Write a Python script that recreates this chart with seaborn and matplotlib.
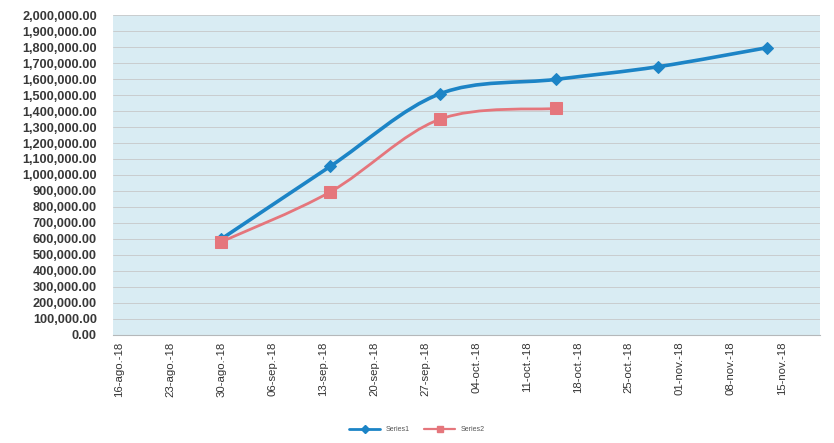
"""Recreate the two-series cumulative line chart (Series1 / Series2)."""

import matplotlib
matplotlib.use("Agg")
import matplotlib.dates as mdates
import matplotlib.pyplot as plt
import matplotlib.ticker as mticker
import pandas as pd
import seaborn as sns
from matplotlib.lines import Line2D
from matplotlib.patches import PathPatch
from matplotlib.path import Path

SERIES1_DATES = ["2018-08-30", "2018-09-14", "2018-09-29", "2018-10-15", "2018-10-29", "2018-11-13"]
SERIES1_VALUES = [600000, 1055000, 1507000, 1598000, 1677000, 1796000]

SERIES2_DATES = ["2018-08-30", "2018-09-14", "2018-09-29", "2018-10-15"]
SERIES2_VALUES = [582000, 895000, 1348000, 1416000]

TICK_DATES = pd.date_range("2018-08-16", "2018-11-15", freq="7D")
TICK_LABELS = [
    "16-ago.-18", "23-ago.-18", "30-ago.-18", "06-sep.-18", "13-sep.-18",
    "20-sep.-18", "27-sep.-18", "04-oct.-18", "11-oct.-18", "18-oct.-18",
    "25-oct.-18", "01-nov.-18", "08-nov.-18", "15-nov.-18",
]
Y_TICKS = list(range(0, 2000001, 100000))

BLUE = "#1c84c6"
RED = "#e5767c"


def smooth_path(xs, ys) -> Path:
    # Excel-style smoothed line: Catmull-Rom segments as cubic Beziers
    pts = list(zip(xs, ys))
    verts, codes = [pts[0]], [Path.MOVETO]
    for i in range(len(pts) - 1):
        p0 = pts[i - 1] if i > 0 else pts[i]
        p1, p2 = pts[i], pts[i + 1]
        p3 = pts[i + 2] if i + 2 < len(pts) else pts[i + 1]
        c1 = (p1[0] + (p2[0] - p0[0]) / 6, p1[1] + (p2[1] - p0[1]) / 6)
        c2 = (p2[0] - (p3[0] - p1[0]) / 6, p2[1] - (p3[1] - p1[1]) / 6)
        verts += [c1, c2, p2]
        codes += [Path.CURVE4] * 3
    return Path(verts, codes)


def draw_series(ax, dates, values, color, lw, marker, ms) -> None:
    df = pd.DataFrame({"date": pd.to_datetime(dates), "value": values})
    xs = mdates.date2num(df["date"])
    ax.add_patch(PathPatch(smooth_path(xs, df["value"].to_numpy()), facecolor="none",
                           edgecolor=color, linewidth=lw, zorder=3, capstyle="round"))
    sns.lineplot(data=df, x="date", y="value", color=color, linestyle="", marker=marker,
                 markersize=ms, markeredgecolor=color, ax=ax, legend=False, zorder=4)


def main() -> None:
    sns.set_style("white")
    plt.rcParams["font.family"] = ["Liberation Sans", "DejaVu Sans"]

    fig = plt.figure(figsize=(8.34, 4.43), dpi=100)
    ax = fig.add_axes([0.136, 0.244, 0.847, 0.722])
    ax.set_facecolor("#d9ecf3")

    draw_series(ax, SERIES1_DATES, SERIES1_VALUES, BLUE, 2.6, "D", 6.5)
    draw_series(ax, SERIES2_DATES, SERIES2_VALUES, RED, 2.0, "s", 8.5)

    ax.set_xlim(pd.Timestamp("2018-08-15 04:00"), pd.Timestamp("2018-11-20 06:00"))
    ax.set_ylim(0, 2000000)
    ax.set_yticks(Y_TICKS)
    ax.yaxis.set_major_formatter(mticker.FuncFormatter(lambda v, _: f"{v:,.2f}"))
    ax.set_xticks(TICK_DATES)
    ax.set_xticklabels(TICK_LABELS, rotation=90)
    ax.tick_params(axis="y", labelsize=9.2, colors="#383838", length=0, pad=12)
    ax.tick_params(axis="x", labelsize=8.2, colors="#333333", length=0, pad=5)
    for lbl in ax.get_yticklabels():
        lbl.set_fontweight("bold")

    ax.grid(axis="y", color="#c6c8c9", linewidth=0.6)
    ax.grid(axis="x", visible=False)
    for side in ("top", "right", "left"):
        ax.spines[side].set_visible(False)
    ax.spines["bottom"].set_color("#b5b8ba")
    ax.set(xlabel="", ylabel="")

    handles = [
        Line2D([], [], color=BLUE, linewidth=2.0, marker="D", markersize=4, markeredgecolor=BLUE),
        Line2D([], [], color=RED, linewidth=1.6, marker="s", markersize=5, markeredgecolor=RED),
    ]
    fig.legend(handles, ["Series1", "Series2"], loc="center", bbox_to_anchor=(0.5, 0.03), ncol=2,
               frameon=False, fontsize=5, handlelength=4.5, columnspacing=2.0, labelcolor="#555555")

    fig.savefig("out.png", dpi=100)
    plt.close(fig)


if __name__ == "__main__":
    main()
